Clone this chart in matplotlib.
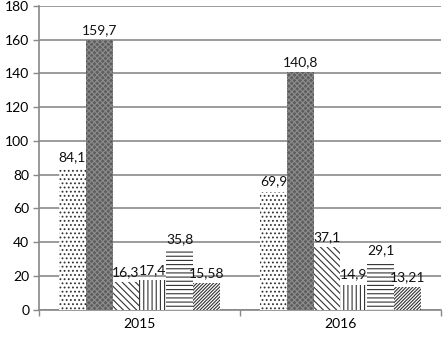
import numpy as np
import matplotlib.pyplot as plt

years = ['2015', '2016']
series = [
    [84.1, 69.9],
    [159.7, 140.8],
    [16.3, 37.1],
    [17.4, 14.9],
    [35.8, 29.1],
    [15.58, 13.21],
]
labels = [
    ['84,1', '69,9'],
    ['159,7', '140,8'],
    ['16,3', '37,1'],
    ['17,4', '14,9'],
    ['35,8', '29,1'],
    ['15,58', '13,21'],
]
hatches = ['....', None, '\\\\\\\\\\', '||||', '----', '//////////']
faces = ['white', '#5e5e5e', 'white', 'white', 'white', 'white']

plt.rcParams['font.family'] = ['Lato', 'DejaVu Sans']
plt.rcParams['hatch.linewidth'] = 0.8

fig = plt.figure(figsize=(4.48, 3.43), dpi=100)
ax = fig.add_axes([0.087, 0.097, 0.897, 0.886])

x = np.arange(len(years))
n = len(series)
w = 0.8 / n
for i, vals in enumerate(series):
    pos = x - 0.4 + w * (i + 0.5)
    bars = ax.bar(pos, vals, width=w, color=faces[i], hatch=hatches[i],
                  edgecolor='#333333', linewidth=0, zorder=3)
    if i == 1:
        ax.bar(pos, vals, width=w, color='none', hatch='xxxxxx', edgecolor='#8c8c8c',
               linewidth=0, zorder=3)
    for b, lab in zip(bars, labels[i]):
        ax.annotate(lab, (b.get_x() + b.get_width() / 2, b.get_height()),
                    xytext=(0, 3), textcoords='offset points', ha='center', va='bottom',
                    fontsize=10, color='#111111', zorder=5)

ax.set_ylim(0, 180)
ax.set_yticks(np.arange(0, 181, 20))
ax.set_xlim(-0.5, 1.5)
ax.set_xticks(x)
ax.set_xticklabels(years)
ax.set_xticks([-0.5, 0.5, 1.5], minor=True)
ax.tick_params(axis='x', which='major', length=0, labelsize=10, pad=6)
ax.tick_params(axis='x', which='minor', length=4, color='#888888', width=1)
ax.tick_params(axis='y', length=4, color='#888888', width=1, labelsize=10, pad=3)
ax.yaxis.grid(True, color='#8a8a8a', linewidth=1.2, zorder=0)
for s in ['top', 'right']:
    ax.spines[s].set_visible(False)
for s in ['left', 'bottom']:
    ax.spines[s].set_color('#888888')
    ax.spines[s].set_linewidth(1.2)

fig.savefig('out.png', dpi=100)
